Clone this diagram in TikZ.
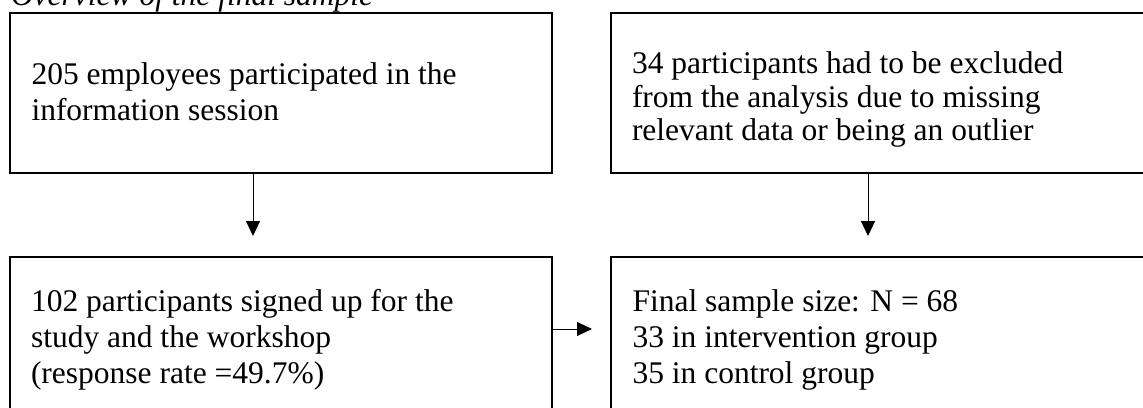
\documentclass[tikz,border=0pt]{standalone}
\usepackage{fontspec}
\setmainfont{Liberation Serif}
\usetikzlibrary{arrows.meta}
\begin{document}
\begin{tikzpicture}[x=1pt,y=-1pt,
  box/.style={draw, line width=2pt, inner sep=0pt, outer sep=0pt, anchor=north west},
  txt/.style={anchor=base west, inner sep=0pt, outer sep=0pt, font=\fontsize{31.5}{36}\selectfont},
  arr/.style={line width=1pt, -{Triangle[length=15pt,width=14pt]}}]
\useasboundingbox (0,0) rectangle (1143,407);
\clip (0,0) rectangle (1143,407);
% title
\node[txt, font=\fontsize{31.5}{36}\selectfont\itshape] (title) at (11,5) {Overview of the final sample};
% boxes
\node[box, minimum width=542.4pt, minimum height=160pt] (tl) at (9.6,13) {};
\node[box, minimum width=560pt, minimum height=160pt] (tr) at (611,13) {};
\node[box, minimum width=542.4pt, minimum height=180pt] (bl) at (9.6,257) {};
\node[box, minimum width=560pt, minimum height=180pt] (br) at (611,257) {};
% texts
\node[txt] (tl1) at (31.5,84) {205 employees participated in the};
\node[txt] (tl2) at (31.5,120) {information session};
\node[txt] (tr1) at (632,73) {34 participants had to be excluded};
\node[txt] (tr2) at (632,107) {from the analysis due to missing};
\node[txt] (tr3) at (632,140) {relevant data or being an outlier};
\node[txt] (bl1) at (31,311) {102 participants signed up for the};
\node[txt] (bl2) at (31,347) {study and the workshop};
\node[txt] (bl3) at (31,383) {(response rate =49.7\%)};
\node[txt] (br1) at (632.5,311) {Final sample size: N = 68};
\node[txt] (br2) at (632.5,347) {33 in intervention group};
\node[txt] (br3) at (632.5,383) {35 in control group};
% connector guides
\coordinate (ax1) at (253,0);
\coordinate (ax2) at (868,0);
\coordinate (ay) at (0,329);
% arrows
\draw[arr, shorten >=21pt] (tl.south -| ax1) -- (bl.north -| ax1);
\draw[arr, shorten >=21pt] (tr.south -| ax2) -- (br.north -| ax2);
\draw[arr, shorten >=19pt] (bl.east |- ay) -- (br.west |- ay);
\end{tikzpicture}
\end{document}
